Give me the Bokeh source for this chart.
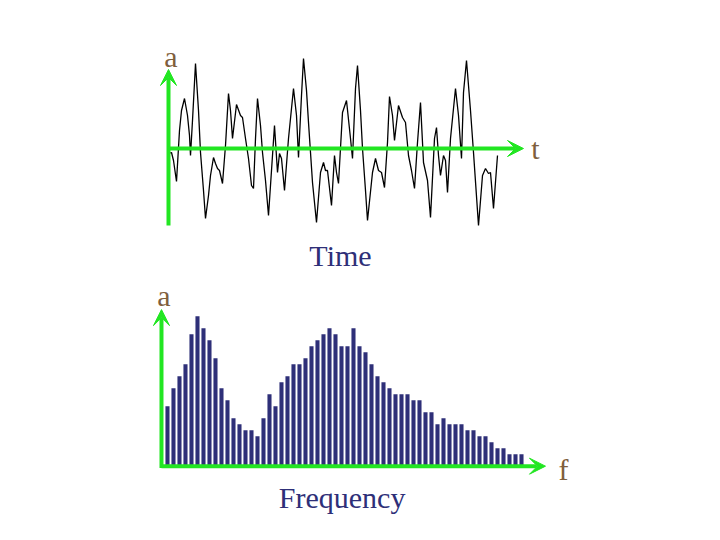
from bokeh.plotting import figure
from bokeh.layouts import column
from bokeh.models import Arrow, VeeHead, ColumnDataSource
from bokeh.core.properties import value
from bokeh.embed import file_html
from bokeh.resources import INLINE

# ---- Time-domain signal (t, amplitude) ----
signal_t = [0, 3, 5, 8, 11, 13, 16, 19, 21, 22, 24, 27, 30, 32, 35, 37, 40, 42, 45, 47,
            49, 51, 54, 57, 60, 62, 64, 68, 72, 74, 77, 80, 83, 85, 87, 89, 92, 94, 97, 100,
            104, 106, 109, 111, 113, 116, 120, 125, 128, 130, 133, 135, 138, 140, 144, 148,
            152, 155, 157, 159, 163, 166, 168, 170, 174, 178, 182, 184, 187, 189, 192, 194,
            197, 199, 204, 207, 210, 213, 216, 219, 221, 224, 226, 230, 234, 237, 240, 243,
            246, 249, 252, 255, 259, 262, 266, 268, 270, 272, 275, 277, 279, 282, 287, 290,
            293, 295, 298, 302, 305, 310, 314, 317, 320, 322, 325, 329]
signal_a = [-5, -4, -12, -33, 18, 38, 50, 33, 13, -7, 28, 85, 38, -4, -42, -70, -47, -27,
            -9, -15, -20, -22, -35, 3, 55, 38, 10, 44, 33, 31, 10, -10, -37, -40, 10, 50,
            23, -4, -32, -67, -7, 23, -24, -5, -10, -42, 10, 60, 33, -9, 53, 90, 58, 26,
            -34, -74, -24, -14, -22, -22, -57, -7, -24, -35, 36, 48, 10, -10, 60, 83, 38,
            0, -42, -72, -24, -10, -22, -24, -39, 6, 52, 33, 8, 43, 31, 26, -7, -22, -40,
            6, 46, -14, -32, -69, 10, 21, -7, -27, -7, -12, -44, 10, 60, 33, -10, 56, 88,
            38, -4, -77, -27, -20, -25, -24, -60, -7]

# ---- Frequency spectrum (bin, amplitude) ----
freq_bins = list(range(1, 61))
freq_amp = [10, 13, 15, 17, 22, 25, 23, 21, 18, 13, 11, 8, 7, 6, 6, 5, 8, 12, 10, 14,
            15, 17, 17, 18, 20, 21, 22, 23, 22, 20, 20, 23, 20, 19, 17, 15, 14, 13, 12, 12,
            12, 11, 11, 9, 9, 7, 8, 7, 7, 7, 6, 6, 5, 5, 4, 3, 3, 2, 2, 2]

GREEN = "#22e622"
NAVY = "#2e2f78"
BROWN = "#7f5f3d"
SERIF = value("Liberation Serif")

# ---------------- top panel: time signal ----------------
p1 = figure(width=704, height=274, x_range=(-168, 536), y_range=(-126, 148),
            x_axis_type=None, y_axis_type=None, toolbar_location=None,
            output_backend="svg", min_border=0, outline_line_color=None)
p1.line(signal_t, signal_a, line_color="black", line_width=1.3)
p1.add_layout(Arrow(x_start=0, y_start=-77, x_end=0, y_end=79, line_color=GREEN,
                    line_width=4, end=VeeHead(size=16, fill_color=GREEN, line_color=GREEN)))
p1.add_layout(Arrow(x_start=0, y_start=0, x_end=355, y_end=0, line_color=GREEN,
                    line_width=4, end=VeeHead(size=16, fill_color=GREEN, line_color=GREEN)))
p1.text(x=[2.5], y=[92], text=["a"], text_font=SERIF, text_font_size="30px",
        text_color=BROWN, text_align="center", text_baseline="alphabetic")
p1.text(x=[367], y=[0], text=["t"], text_font=SERIF, text_font_size="30px",
        text_color=BROWN, text_align="center", text_baseline="alphabetic")
p1.text(x=[172], y=[-107], text=["Time"], text_font=SERIF, text_font_size="30px",
        text_color=NAVY, text_align="center", text_baseline="alphabetic")

# ---------------- bottom panel: spectrum ----------------
p2 = figure(width=704, height=250, x_range=(-26.83, 90.5), y_range=(-9.72, 31.95),
            x_axis_type=None, y_axis_type=None, toolbar_location=None,
            output_backend="svg", min_border=0, outline_line_color=None)
src = ColumnDataSource(dict(f=freq_bins, a=freq_amp))
p2.vbar(x="f", top="a", bottom=0, width=0.68, source=src, fill_color=NAVY, line_color=None)
p2.add_layout(Arrow(x_start=0, y_start=-0.3, x_end=0, y_end=26.1, line_color=GREEN,
                    line_width=4, end=VeeHead(size=16, fill_color=GREEN, line_color=GREEN)))
p2.add_layout(Arrow(x_start=0, y_start=0, x_end=64, y_end=0, line_color=GREEN,
                    line_width=4, end=VeeHead(size=16, fill_color=GREEN, line_color=GREEN)))
p2.text(x=[0.4], y=[28.5], text=["a"], text_font=SERIF, text_font_size="30px",
        text_color=BROWN, text_align="center", text_baseline="alphabetic")
p2.text(x=[67], y=[-0.6], text=["f"], text_font=SERIF, text_font_size="30px",
        text_color=BROWN, text_align="center", text_baseline="alphabetic")
p2.text(x=[30.1], y=[-5.27], text=["Frequency"], text_font=SERIF, text_font_size="30px",
        text_color=NAVY, text_align="center", text_baseline="alphabetic")

layout = column(p1, p2, spacing=0)
open("out.html", "w").write(file_html(layout, INLINE))
